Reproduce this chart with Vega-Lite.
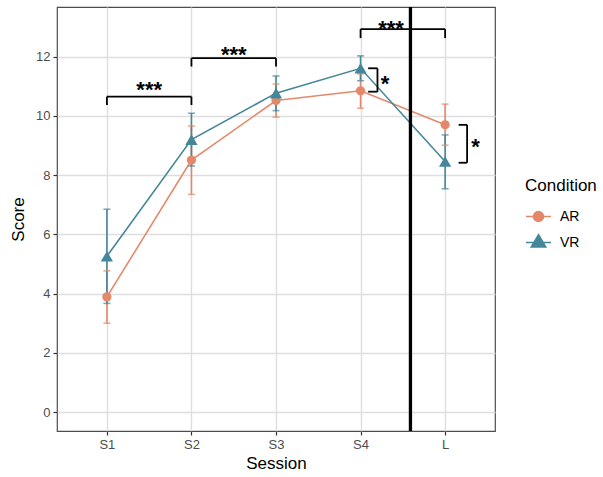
{
  "$schema": "https://vega.github.io/schema/vega-lite/v6.json",
  "width": 438,
  "height": 424,
  "autosize": {"type": "none"},
  "padding": {"left": 57, "top": 7, "right": 108, "bottom": 46},
  "background": "white",
  "datasets": {
    "means": [
      {"session": 1, "condition": "AR", "score": 3.89, "lo": 3.00, "hi": 4.77},
      {"session": 2, "condition": "AR", "score": 8.51, "lo": 7.35, "hi": 9.66},
      {"session": 3, "condition": "AR", "score": 10.52, "lo": 9.96, "hi": 11.08},
      {"session": 4, "condition": "AR", "score": 10.85, "lo": 10.26, "hi": 11.42},
      {"session": 5, "condition": "AR", "score": 9.70, "lo": 9.01, "hi": 10.40},
      {"session": 1, "condition": "VR", "score": 5.26, "lo": 3.67, "hi": 6.85},
      {"session": 2, "condition": "VR", "score": 9.20, "lo": 8.31, "hi": 10.09},
      {"session": 3, "condition": "VR", "score": 10.77, "lo": 10.18, "hi": 11.35},
      {"session": 4, "condition": "VR", "score": 11.61, "lo": 11.19, "hi": 12.03},
      {"session": 5, "condition": "VR", "score": 8.46, "lo": 7.54, "hi": 9.36}
    ],
    "brackets": [
      {"x1": 1, "x2": 1, "y1": 10.37, "y2": 10.65},
      {"x1": 1, "x2": 2, "y1": 10.65, "y2": 10.65},
      {"x1": 2, "x2": 2, "y1": 10.65, "y2": 10.37},
      {"x1": 2, "x2": 2, "y1": 11.67, "y2": 11.95},
      {"x1": 2, "x2": 3, "y1": 11.95, "y2": 11.95},
      {"x1": 3, "x2": 3, "y1": 11.95, "y2": 11.67},
      {"x1": 4, "x2": 4, "y1": 12.63, "y2": 12.93},
      {"x1": 4, "x2": 5, "y1": 12.93, "y2": 12.93},
      {"x1": 5, "x2": 5, "y1": 12.93, "y2": 12.63},
      {"x1": 4.09, "x2": 4.2, "y1": 11.61, "y2": 11.61},
      {"x1": 4.2, "x2": 4.2, "y1": 11.61, "y2": 10.82},
      {"x1": 4.2, "x2": 4.09, "y1": 10.82, "y2": 10.82},
      {"x1": 5.16, "x2": 5.26, "y1": 9.70, "y2": 9.70},
      {"x1": 5.26, "x2": 5.26, "y1": 9.70, "y2": 8.42},
      {"x1": 5.26, "x2": 5.16, "y1": 8.42, "y2": 8.42}
    ],
    "stars": [
      {"x": 1.5, "y": 11.05, "label": "***"},
      {"x": 2.5, "y": 12.25, "label": "***"},
      {"x": 4.36, "y": 13.13, "label": "***"},
      {"x": 4.29, "y": 11.28, "label": "*"},
      {"x": 5.36, "y": 9.13, "label": "*"}
    ],
    "vline": [{"x": 4.59}]
  },
  "layer": [
    {
      "data": {"name": "means"},
      "mark": {"type": "line", "strokeWidth": 1.6},
      "encoding": {
        "x": {"field": "session", "type": "quantitative",
              "scale": {"domain": [0.41, 5.59], "nice": false, "zero": false},
              "axis": {"values": [1, 2, 3, 4, 5], "labelExpr": "['S1','S2','S3','S4','L'][datum.value - 1]", "title": "Session", "titlePadding": 4, "labelPadding": 3}},
        "y": {"field": "score", "type": "quantitative",
              "scale": {"domain": [-0.64, 13.68], "nice": false, "zero": false},
              "axis": {"values": [0,1,2,3,4,5,6,7,8,9,10,11,12,13],
                       "labelExpr": "datum.value % 2 === 0 ? datum.label : ''",
                       "tickColor": {"condition": {"test": "datum.value % 2 === 1", "value": "transparent"}, "value": "#333333"},
                       "gridWidth": {"condition": {"test": "datum.value % 2 === 1", "value": 0.8}, "value": 1.4},
                       "title": "Score", "titlePadding": 8, "labelPadding": 3}},
        "color": {"field": "condition", "type": "nominal",
                  "scale": {"domain": ["AR", "VR"], "range": ["#E3896A", "#45879A"]},
                  "legend": {"title": "Condition"}},
        "detail": {"field": "condition"}
      }
    },
    {
      "data": {"name": "means"},
      "mark": {"type": "rule", "strokeWidth": 1.6},
      "encoding": {
        "x": {"field": "session", "type": "quantitative"},
        "y": {"field": "lo", "type": "quantitative"},
        "y2": {"field": "hi"},
        "color": {"field": "condition", "type": "nominal", "legend": {"title": "Condition"}}
      }
    },
    {
      "data": {"name": "means"},
      "mark": {"type": "tick", "orient": "horizontal", "size": 7, "thickness": 1.6},
      "encoding": {
        "x": {"field": "session", "type": "quantitative"},
        "y": {"field": "lo", "type": "quantitative"},
        "color": {"field": "condition", "type": "nominal", "legend": {"title": "Condition"}}
      }
    },
    {
      "data": {"name": "means"},
      "mark": {"type": "tick", "orient": "horizontal", "size": 7, "thickness": 1.6},
      "encoding": {
        "x": {"field": "session", "type": "quantitative"},
        "y": {"field": "hi", "type": "quantitative"},
        "color": {"field": "condition", "type": "nominal", "legend": {"title": "Condition"}}
      }
    },
    {
      "data": {"name": "means"},
      "transform": [{"filter": "datum.condition === 'AR'"}],
      "mark": {"type": "point", "filled": true, "opacity": 1, "shape": "circle", "size": 85},
      "encoding": {
        "x": {"field": "session", "type": "quantitative"},
        "y": {"field": "score", "type": "quantitative"},
        "color": {"field": "condition", "type": "nominal", "legend": {"title": "Condition"}}
      }
    },
    {
      "data": {"name": "means"},
      "transform": [{"filter": "datum.condition === 'VR'"}],
      "mark": {"type": "point", "filled": true, "opacity": 1, "shape": "triangle-up", "size": 150},
      "encoding": {
        "x": {"field": "session", "type": "quantitative"},
        "y": {"field": "score", "type": "quantitative"},
        "color": {"field": "condition", "type": "nominal", "legend": {"title": "Condition"}}
      }
    },
    {
      "data": {"name": "means"},
      "mark": {"type": "point", "filled": true, "opacity": 0, "strokeWidth": 1.6},
      "encoding": {
        "x": {"field": "session", "type": "quantitative"},
        "y": {"field": "score", "type": "quantitative"},
        "color": {"field": "condition", "type": "nominal",
                  "legend": {"title": "Condition", "orient": "none", "legendX": 468, "legendY": 171,
                             "titleFontSize": 17, "titleFont": "Liberation Sans", "titleFontWeight": "normal", "titleColor": "#000000",
                             "labelFontSize": 14, "labelFont": "Liberation Sans", "labelColor": "#000000",
                             "symbolSize": 625, "symbolOpacity": 1, "symbolStrokeWidth": 1.6,
                             "labelOffset": 8, "rowPadding": 4, "titlePadding": 8}},
        "stroke": {"field": "condition", "type": "nominal",
                   "scale": {"domain": ["AR", "VR"], "range": ["#E3896A", "#45879A"]},
                   "legend": {"title": "Condition", "orient": "none", "legendX": 468, "legendY": 171, "symbolOpacity": 1}},
        "shape": {"field": "condition", "type": "nominal",
                  "scale": {"domain": ["AR", "VR"], "range": ["M-1,0L1,0M0.4,0A0.4,0.4,0,1,1,-0.4,0A0.4,0.4,0,1,1,0.4,0Z", "M-1,0L1,0M0,-0.62L0.58,0.36L-0.58,0.36Z"]},
                  "legend": {"title": "Condition", "orient": "none", "legendX": 468, "legendY": 171, "symbolOpacity": 1}}
      }
    },
    {
      "data": {"name": "vline"},
      "mark": {"type": "rule", "strokeWidth": 3.3, "color": "#000000"},
      "encoding": {"x": {"field": "x", "type": "quantitative"}}
    },
    {
      "data": {"name": "brackets"},
      "mark": {"type": "rule", "strokeWidth": 1.8, "color": "#000000"},
      "encoding": {
        "x": {"field": "x1", "type": "quantitative"},
        "x2": {"field": "x2"},
        "y": {"field": "y1", "type": "quantitative"},
        "y2": {"field": "y2"}
      }
    },
    {
      "data": {"name": "stars"},
      "mark": {"type": "text", "font": "Liberation Sans", "fontSize": 22, "fontWeight": "bold", "color": "#000000", "baseline": "alphabetic", "align": "center", "dy": 12.6},
      "encoding": {
        "x": {"field": "x", "type": "quantitative"},
        "y": {"field": "y", "type": "quantitative"},
        "text": {"field": "label"}
      }
    }
  ],
  "config": {
    "view": {"stroke": "#4d4d4d", "strokeWidth": 1.2},
    "legend": {"symbolOpacity": 1},
    "axis": {
      "labelFont": "Liberation Sans", "titleFont": "Liberation Sans",
      "labelFontSize": 13, "labelColor": "#4d4d4d",
      "titleFontSize": 17, "titleFontWeight": "normal", "titleColor": "#000000",
      "domain": false, "tickColor": "#333333", "tickSize": 4, "tickWidth": 1.2,
      "gridColor": "#DEDEDE", "gridWidth": 1.4
    }
  }
}
